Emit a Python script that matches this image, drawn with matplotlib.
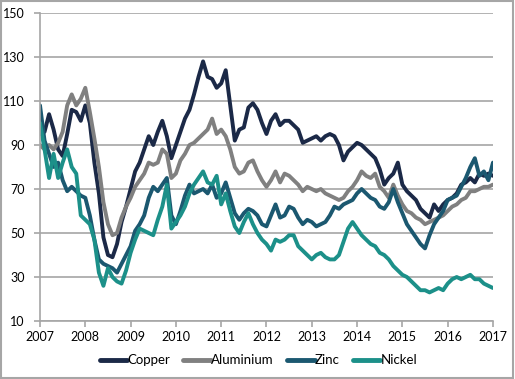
import numpy as np
import matplotlib
matplotlib.use("Agg")
import matplotlib.pyplot as plt
from matplotlib.patches import Rectangle

plt.rcParams["font.family"] = ["Lato", "DejaVu Sans"]

# decimal years, step of 0.1 from 2007.0 to 2017.0
years = np.round(np.arange(2007.0, 2017.05, 0.1), 1)

copper = [95, 96, 104, 97, 88, 85, 95, 106, 105, 101,
          108, 100, 82, 68, 48, 40, 39, 45, 55, 62,
          70, 78, 82, 88, 94, 90, 96, 101, 94, 84,
          90, 96, 102, 106, 113, 121, 128, 121, 120, 116,
          118, 124, 108, 92, 97, 98, 107, 109, 106, 100,
          95, 101, 104, 99, 101, 101, 99, 97, 91, 92,
          93, 94, 92, 94, 95, 94, 90, 83, 87, 89,
          91, 90, 88, 86, 84, 79, 72, 75, 77, 82,
          72, 69, 67, 65, 61, 59, 57, 63, 60, 63,
          65, 66, 68, 72, 73, 75, 73, 77, 76, 77,
          76]

aluminium = [90, 88, 90, 88, 91, 96, 108, 113, 108, 111,
             116, 105, 93, 80, 64, 54, 49, 50, 57, 62,
             66, 71, 74, 77, 82, 81, 82, 88, 86, 75,
             77, 83, 86, 90, 91, 93, 95, 97, 102, 95,
             97, 94, 88, 80, 77, 78, 82, 83, 78, 74,
             71, 74, 78, 73, 77, 76, 74, 72, 69, 71,
             70, 69, 70, 68, 67, 66, 65, 66, 69, 71,
             74, 78, 76, 75, 77, 71, 69, 66, 72, 67,
             63, 60, 59, 57, 56, 54, 55, 56, 57, 58,
             60, 62, 63, 65, 66, 69, 69, 70, 71, 71,
             72]

zinc = [108, 92, 86, 80, 82, 74, 69, 71, 69, 67,
        66, 58, 47, 38, 36, 35, 34, 32, 36, 40,
        44, 51, 54, 58, 66, 71, 69, 72, 75, 58,
        54, 60, 67, 72, 68, 69, 70, 68, 72, 66,
        68, 73, 66, 59, 56, 59, 61, 60, 58, 54,
        53, 58, 63, 57, 58, 62, 61, 57, 54, 56,
        55, 53, 54, 55, 58, 62, 61, 63, 64, 65,
        68, 70, 68, 66, 65, 62, 61, 64, 70, 64,
        59, 54, 51, 48, 45, 43, 49, 54, 57, 60,
        65, 66, 67, 71, 75, 80, 84, 76, 78, 74,
        82]

nickel = [100, 88, 75, 86, 75, 82, 88, 80, 77, 58,
          56, 54, 47, 32, 26, 34, 30, 28, 27, 33,
          41, 47, 52, 51, 50, 49, 56, 62, 72, 52,
          55, 58, 62, 68, 72, 75, 78, 73, 72, 76,
          63, 68, 60, 53, 50, 55, 59, 54, 50, 47,
          45, 42, 47, 46, 47, 49, 49, 44, 42, 40,
          38, 40, 41, 39, 38, 38, 40, 46, 52, 55,
          52, 49, 47, 45, 44, 41, 40, 38, 35, 33,
          31, 30, 28, 26, 24, 24, 23, 24, 25, 24,
          27, 29, 30, 29, 30, 31, 29, 29, 27, 26,
          25]

series = [("Copper", copper, "#1b2947"),
          ("Aluminium", aluminium, "#808080"),
          ("Zinc", zinc, "#1b5870"),
          ("Nickel", nickel, "#1c9089")]

year_ticks = list(range(2007, 2018))
value_ticks = [10, 30, 50, 70, 90, 110, 130, 150]

grid_col = "#a6a6a6"

fig = plt.figure(figsize=(5.15, 3.79), dpi=100)
ax = fig.add_axes([0.0777, 0.153, 0.8795, 0.8127])

for name, vals, col in series:
    ax.plot(years, vals, color=col, lw=2.8, label=name,
            solid_joinstyle="round", solid_capstyle="round")

ax.set_xlim(2007, 2017)
ax.set_ylim(10, 150)
ax.set_xticks(year_ticks)
ax.set_yticks(value_ticks)
ax.yaxis.grid(True, color=grid_col, lw=1.2)
ax.set_axisbelow(True)

for s in ["top", "right"]:
    ax.spines[s].set_visible(False)
for s in ["left", "bottom"]:
    ax.spines[s].set_color(grid_col)
    ax.spines[s].set_linewidth(1.2)

ax.tick_params(axis="both", colors=grid_col, labelcolor="black", labelsize=9,
               length=4, width=1.2, direction="out")
ax.tick_params(axis="x", pad=3)
ax.tick_params(axis="y", pad=7)

leg = ax.legend(loc="center", bbox_to_anchor=(0.482, -0.127), ncol=4,
                frameon=False, fontsize=9.5, handlelength=2.1, handletextpad=0.0,
                columnspacing=1.0)
for line in leg.get_lines():
    line.set_linewidth(3.5)
    line.set_solid_capstyle("round")

# grey frame around the whole picture
fig.patches.append(Rectangle((0.002, 0.003), 0.995, 0.994, transform=fig.transFigure,
                             fill=False, edgecolor="#a6a6a6", lw=1.5))

fig.savefig("out.png", dpi=100)
